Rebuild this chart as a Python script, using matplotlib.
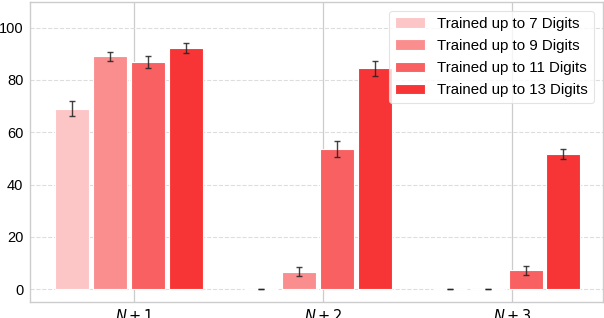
import numpy as np
import matplotlib
matplotlib.use("Agg")
import matplotlib.pyplot as plt

categories = ["$N+1$", "$N+2$", "$N+3$"]
series_labels = ["Trained up to 7 Digits", "Trained up to 9 Digits",
                 "Trained up to 11 Digits", "Trained up to 13 Digits"]
values = [
    [69.0, 0.0, 0.0],
    [89.0, 6.7, 0.0],
    [86.8, 53.6, 7.1],
    [92.2, 84.5, 51.6],
]
errors = [
    [2.9, 0.0, 0.0],
    [1.8, 1.6, 0.0],
    [2.3, 3.1, 1.6],
    [1.9, 2.8, 2.0],
]
colors = ["#FCC5C6", "#FA8E8F", "#F96061", "#F83536"]
yticks = [0, 20, 40, 60, 80, 100]

plt.rcParams['font.family'] = ['Liberation Sans', 'DejaVu Sans']
plt.rcParams['mathtext.fontset'] = 'dejavusans'

fig = plt.figure(figsize=(6.04, 3.18), dpi=100)
ax = fig.add_axes([0.05, 0.05, 0.948, 0.945])

x = np.arange(len(categories))
step = 0.2
width = 0.18
shift = -0.028
for i in range(len(series_labels)):
    ax.bar(x + (i - 1.5) * step + shift, values[i], width,
           yerr=errors[i], color=colors[i], edgecolor='white', linewidth=0.8,
           label=series_labels[i], capsize=2.5,
           error_kw=dict(ecolor='#222222', elinewidth=1.0, capthick=1.0, alpha=0.85),
           zorder=3)

ax.set_xticks(x)
ax.set_xticklabels(categories, fontsize=10.5)
ax.set_yticks(yticks)
ax.tick_params(axis='y', labelsize=10.5, length=0, pad=5)
ax.tick_params(axis='x', length=0, pad=4)
ax.set_ylim(-5, 110)
ax.set_xlim(-0.55, 2.48)

ax.set_axisbelow(True)
ax.yaxis.grid(True, linestyle='--', color='#dddddd', linewidth=0.8)
ax.xaxis.grid(True, linestyle='-', color='#cccccc', linewidth=0.9)
for s in ax.spines.values():
    s.set_color('#cccccc')
    s.set_linewidth(1.0)

leg = ax.legend(loc='upper right', fontsize=10.8, frameon=True, fancybox=True,
                borderaxespad=0.6, labelspacing=0.55)
leg.get_frame().set_edgecolor('#dddddd')
leg.get_frame().set_linewidth(0.8)

fig.savefig("out.png", dpi=100)
